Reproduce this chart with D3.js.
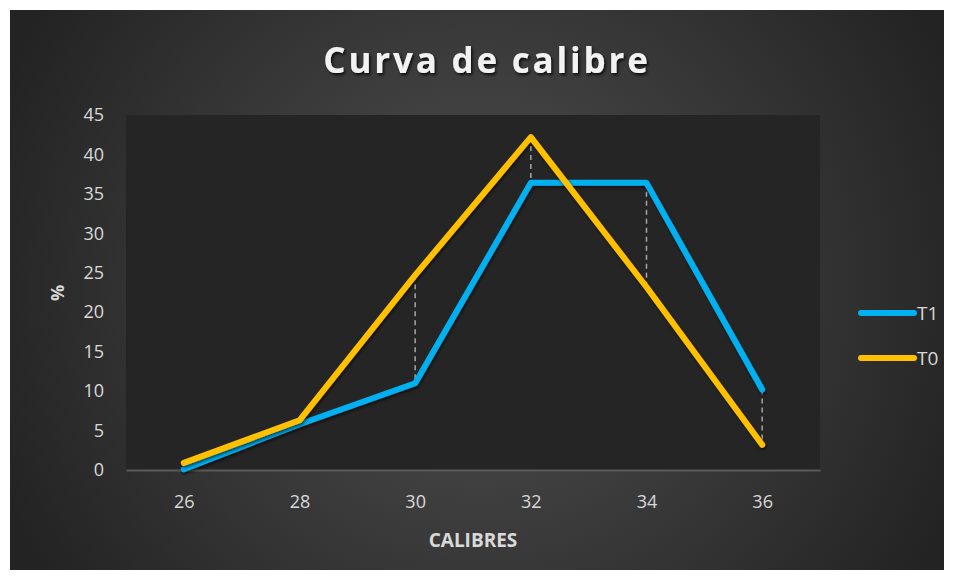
<!DOCTYPE html>
<html><head><meta charset="utf-8">
<script src="https://cdn.jsdelivr.net/npm/d3@7"></script>
<style>html,body{margin:0;padding:0;background:#fff;}svg{display:block;}</style>
</head><body>
<svg id="chart" width="954" height="580"></svg>
<script>
const categories = ["26","28","30","32","34","36"];
const seriesT1 = [0.1, 5.8, 11.0, 36.4, 36.4, 10.2];
const seriesT0 = [0.9, 6.3, 24.7, 42.2, 23.2, 3.2];
const seriesNames = ["T1","T0"];
const seriesColors = ["#00b0f0","#ffc000"];
const yTicks = [0,5,10,15,20,25,30,35,40,45];

const svg = d3.select("#chart");
const defs = svg.append("defs");
const rg = defs.append("radialGradient").attr("id","bg").attr("gradientUnits","userSpaceOnUse")
  .attr("cx",480).attr("cy",290).attr("r",520);
rg.append("stop").attr("offset","0").attr("stop-color","#505050");
rg.append("stop").attr("offset","1").attr("stop-color","#232323");
const f = defs.append("filter").attr("id","sh").attr("x","-10%").attr("y","-10%").attr("width","120%").attr("height","120%");
f.append("feDropShadow").attr("dx",1).attr("dy",2).attr("stdDeviation",1.5).attr("flood-color","#000").attr("flood-opacity",0.6);
const tf = defs.append("filter").attr("id","tsh");
tf.append("feDropShadow").attr("dx",1.5).attr("dy",2).attr("stdDeviation",1.5).attr("flood-color","#000").attr("flood-opacity",0.8);

svg.append("rect").attr("x",10).attr("y",10).attr("width",934).attr("height",560).attr("fill","url(#bg)");

const m = {left:126, right:820, top:115, bottom:470};
svg.append("rect").attr("x",m.left).attr("y",m.top).attr("width",m.right-m.left).attr("height",m.bottom-m.top).attr("fill","#252525");

const x = d3.scalePoint().domain(categories).range([m.left,m.right]).padding(0.5);
const y = d3.scaleLinear().domain([0,45]).range([m.bottom,m.top]);

// axes
const font = "'Open Sans', 'Noto Sans', sans-serif";
const yAxis = svg.append("g").attr("transform",`translate(${m.left},0)`)
  .call(d3.axisLeft(y).tickValues(yTicks).tickSize(0).tickPadding(22));
yAxis.select(".domain").remove();
yAxis.selectAll("text").attr("fill","#d9d9d9").style("font-size","18px").style("font-family",font);

const xAxis = svg.append("g").attr("transform",`translate(0,${m.bottom})`)
  .call(d3.axisBottom(x).tickSize(0).tickPadding(25));
xAxis.select(".domain").attr("stroke","#5a5a5a").attr("stroke-width",2);
xAxis.selectAll("text").attr("fill","#d9d9d9").style("font-size","18px").style("font-family",font);

// high-low lines
svg.append("g").selectAll("line").data(categories).join("line")
  .attr("x1",d=>x(d)).attr("x2",d=>x(d))
  .attr("y1",(d,i)=>y(Math.max(seriesT1[i],seriesT0[i])))
  .attr("y2",(d,i)=>y(Math.min(seriesT1[i],seriesT0[i])))
  .attr("stroke","#a6a6a6").attr("stroke-width",1.5).attr("stroke-dasharray","5,4");

const line = d3.line().x((d,i)=>x(categories[i])).y(d=>y(d));
[seriesT1, seriesT0].forEach((s,k)=>{
  svg.append("path").datum(s).attr("d",line).attr("fill","none")
    .attr("stroke",seriesColors[k]).attr("stroke-width",6)
    .attr("stroke-linejoin","round").attr("stroke-linecap","round").attr("filter","url(#sh)");
});

// title
svg.append("text").attr("x",487).attr("y",73).attr("text-anchor","middle")
  .attr("fill","#f2f2f2").style("font-family",font).style("font-weight","bold")
  .style("font-size","35px").style("letter-spacing","2.8px").attr("filter","url(#tsh)")
  .text("Curva de calibre");

// axis titles
svg.append("text").attr("x",473).attr("y",547).attr("text-anchor","middle")
  .attr("fill","#d9d9d9").style("font-family",font).style("font-weight","bold").style("font-size","19px")
  .text("CALIBRES");
svg.append("text").attr("transform","translate(64,293) rotate(-90)").attr("text-anchor","middle")
  .attr("fill","#d9d9d9").style("font-family",font).style("font-weight","bold").style("font-size","18px")
  .text("%");

// legend
const lg = svg.append("g");
seriesNames.forEach((n,k)=>{
  const yy = 313 + k*45;
  lg.append("line").attr("x1",861).attr("x2",914).attr("y1",yy).attr("y2",yy)
    .attr("stroke",seriesColors[k]).attr("stroke-width",6).attr("stroke-linecap","round");
  lg.append("text").attr("x",917).attr("y",yy+7).attr("fill","#d9d9d9")
    .style("font-family",font).style("font-size","19px").text(n);
});
</script>
</body></html>
